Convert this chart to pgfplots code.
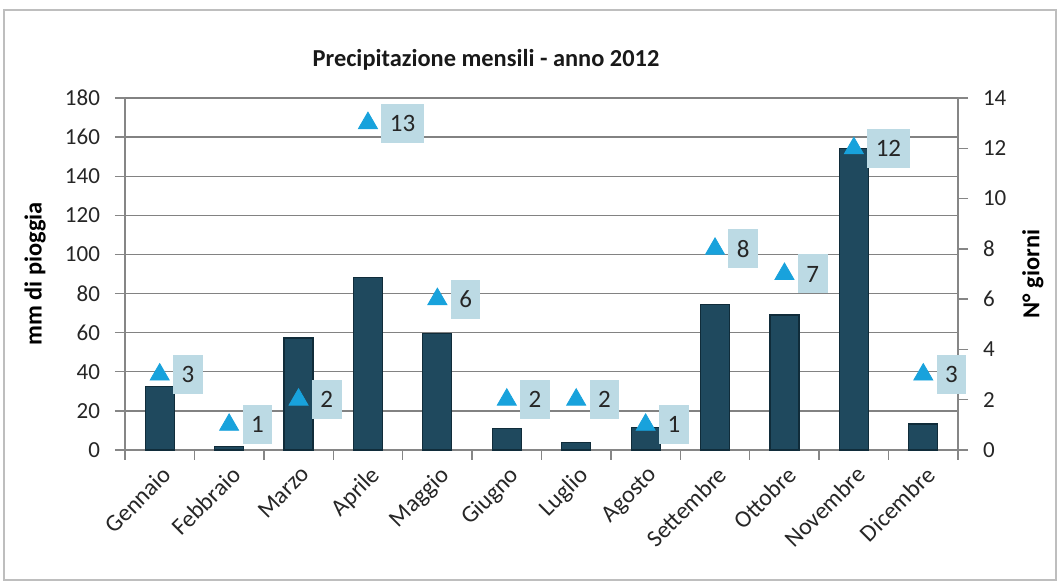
\documentclass[border=0pt]{standalone}
\usepackage{pgfplots}
\pgfplotsset{compat=1.18}
\usepackage{fontspec}
\setmainfont{Carlito}
\definecolor{barc}{RGB}{31,73,94}
\definecolor{bard}{RGB}{16,44,58}
\definecolor{tric}{RGB}{24,162,220}
\definecolor{boxc}{RGB}{188,218,228}
\definecolor{axc}{RGB}{134,134,134}
\definecolor{gridc}{RGB}{130,130,130}
\definecolor{framec}{RGB}{190,190,190}
\begin{document}
\begin{tikzpicture}
\path[use as bounding box] (0,0) rectangle (528.5pt,290.5pt);
\draw[framec, line width=0.8pt] (2pt,0.5pt) rectangle (528pt,285.5pt);
\node[font=\fontsize{12.2}{14}\selectfont\bfseries, text=black!90] at (243pt,260.5pt) {Precipitazione mensili - anno 2012};
\begin{axis}[
  at={(62.5pt,65.5pt)}, anchor=south west,
  width=416.5pt, height=176pt, scale only axis,
  xmin=-0.5, xmax=11.5, ymin=0, ymax=180,
  axis y line*=left, axis x line*=bottom,
  axis line style={axc, line width=0.7pt},
  xtick={0,...,11},
  xticklabels={Gennaio,Febbraio,Marzo,Aprile,Maggio,Giugno,Luglio,Agosto,Settembre,Ottobre,Novembre,Dicembre},
  major x tick style={draw=none},
  minor xtick={-0.5,0.5,...,11.5},
  minor x tick style={axc, line width=0.7pt},
  minor tick length=5pt,
  ytick={0,20,...,180},
  major y tick style={axc, line width=0.7pt},
  major tick length=5pt,
  tick align=outside,
  ymajorgrids, grid style={gridc, line width=0.7pt},
  xticklabel style={rotate=45, anchor=north east, inner sep=1pt, yshift=-1pt, font=\fontsize{12}{14}\selectfont, text=black!85},
  yticklabel style={xshift=-4pt, font=\fontsize{11.5}{13}\selectfont, text=black!85},
  /pgf/number format/assume math mode=true,
  every axis y label/.style={at={(axis description cs:-0.108,0.5)}, rotate=90, anchor=center},
  ylabel={\fontsize{12.2}{14}\selectfont\bfseries mm di pioggia},
  clip=false,
]
\addplot[ybar, bar width=14.5pt, fill=barc, draw=bard, line width=0.6pt] coordinates {
  (0,32.5) (1,1.8) (2,57.3) (3,88) (4,59.7) (5,11) (6,4) (7,11.5) (8,74.6) (9,69) (10,154) (11,13.3)
};
\end{axis}
\begin{axis}[
  at={(62.5pt,65.5pt)}, anchor=south west,
  width=416.5pt, height=176pt, scale only axis,
  xmin=-0.5, xmax=11.5, ymin=0, ymax=14,
  axis x line=none, axis y line*=right,
  axis line style={axc, line width=0.7pt},
  ytick={0,2,...,14},
  major y tick style={axc, line width=0.7pt},
  major tick length=5pt,
  tick align=outside,
  yticklabel style={xshift=4pt, font=\fontsize{11.5}{13}\selectfont, text=black!85},
  /pgf/number format/assume math mode=true,
  every axis y label/.style={at={(axis description cs:1.090,0.5)}, rotate=90, anchor=center},
  ylabel={\fontsize{12.2}{14}\selectfont\bfseries N° giorni},
  clip=false,
]
\addplot[only marks, mark=triangle*, mark size=5.5pt, color=tric,
  nodes near coords, point meta=y, nodes near coords align=horizontal,
  every node near coord/.append style={anchor=west, xshift=6.5pt, fill=boxc, text=black!85, minimum height=19.5pt, inner xsep=4.25pt, inner ysep=2pt, font=\fontsize{12.5}{14}\selectfont}]
coordinates {
  (0,3) (1,1) (2,2) (3,13) (4,6) (5,2) (6,2) (7,1) (8,8) (9,7) (10,12) (11,3)
};
\end{axis}
\end{tikzpicture}
\end{document}
